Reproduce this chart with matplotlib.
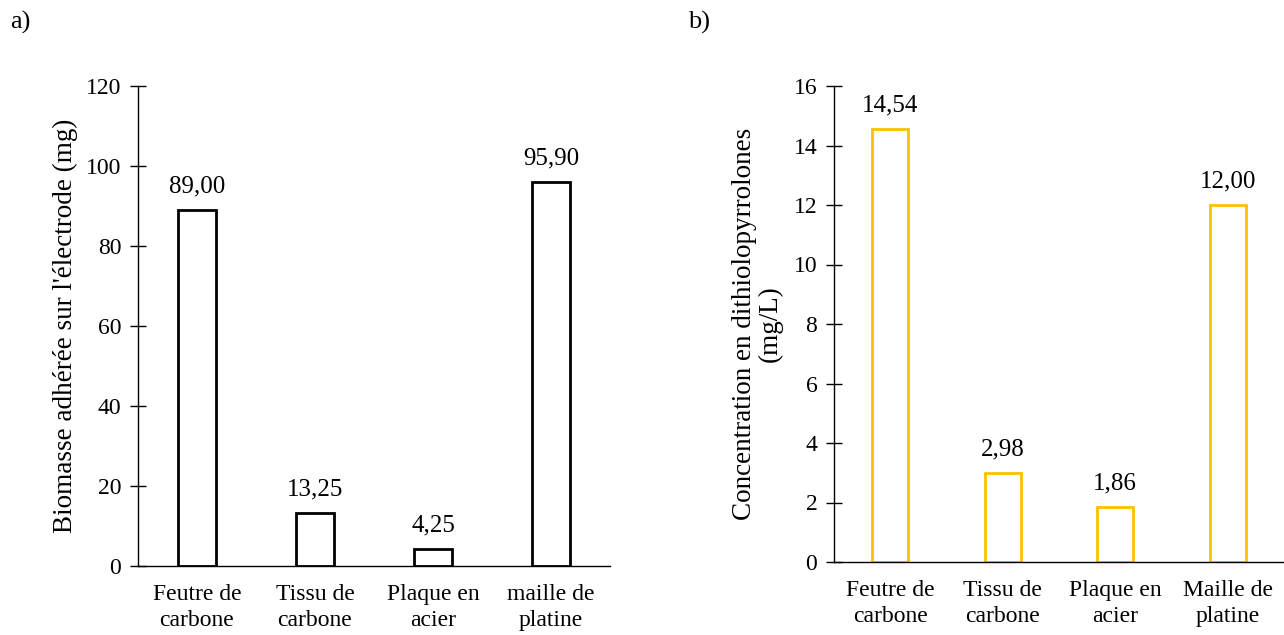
import matplotlib.pyplot as plt
import numpy as np

plt.rcParams['font.family'] = ['Liberation Serif', 'DejaVu Serif']
plt.rcParams['font.size'] = 17

# données
cats_a = ['Feutre de\ncarbone', 'Tissu de\ncarbone', 'Plaque en\nacier', 'maille de\nplatine']
biomasse = [89.00, 13.25, 4.25, 95.90]
cats_b = ['Feutre de\ncarbone', 'Tissu de\ncarbone', 'Plaque en\nacier', 'Maille de\nplatine']
dtp = [14.54, 2.98, 1.86, 12.00]

fig = plt.figure(figsize=(12.84, 6.35), dpi=100)
ax1 = fig.add_axes([138/1284, 1-566/635, (610-138)/1284, (566-86)/635])
ax2 = fig.add_axes([834/1284, 1-562/635, (1284-834)/1284, (562-86)/635])


def draw_panel(ax, cats, vals, color, ymax, step, offset):
    x = np.arange(len(cats))
    ax.bar(x, vals, width=0.32, facecolor='white', edgecolor=color, linewidth=2)
    for xi, v in zip(x, vals):
        ax.text(xi, v + offset, f'{v:.2f}'.replace('.', ','), ha='center', va='bottom', fontsize=18)
    ax.set_xlim(-0.5, len(cats) - 0.5)
    ax.set_ylim(0, ymax)
    ax.set_yticks(np.arange(0, ymax + step, step))
    ax.set_xticks(x)
    ax.set_xticklabels(cats, linespacing=1.3)
    ax.spines['top'].set_visible(False)
    ax.spines['right'].set_visible(False)
    ax.spines['left'].set_linewidth(1)
    ax.spines['bottom'].set_linewidth(1)
    ax.tick_params(axis='y', direction='inout', length=12, width=1, pad=6)
    ax.tick_params(axis='x', length=0, pad=13)


draw_panel(ax1, cats_a, biomasse, 'black', 120, 20, 3.2)
draw_panel(ax2, cats_b, dtp, '#FFC000', 16, 2, 0.42)

ax1.set_ylabel("Biomasse adhérée sur l'électrode (mg)", fontsize=19.5, labelpad=6)
ax2.set_ylabel('Concentration en dithiolopyrrolones\n(mg/L)', fontsize=19.5, labelpad=8, linespacing=1.0)

fig.text(10/1284, 1-22/635, 'a)', fontsize=19, va='center', ha='left')
fig.text(688/1284, 1-22/635, 'b)', fontsize=19, va='center', ha='left')

fig.savefig('out.png', dpi=100)
